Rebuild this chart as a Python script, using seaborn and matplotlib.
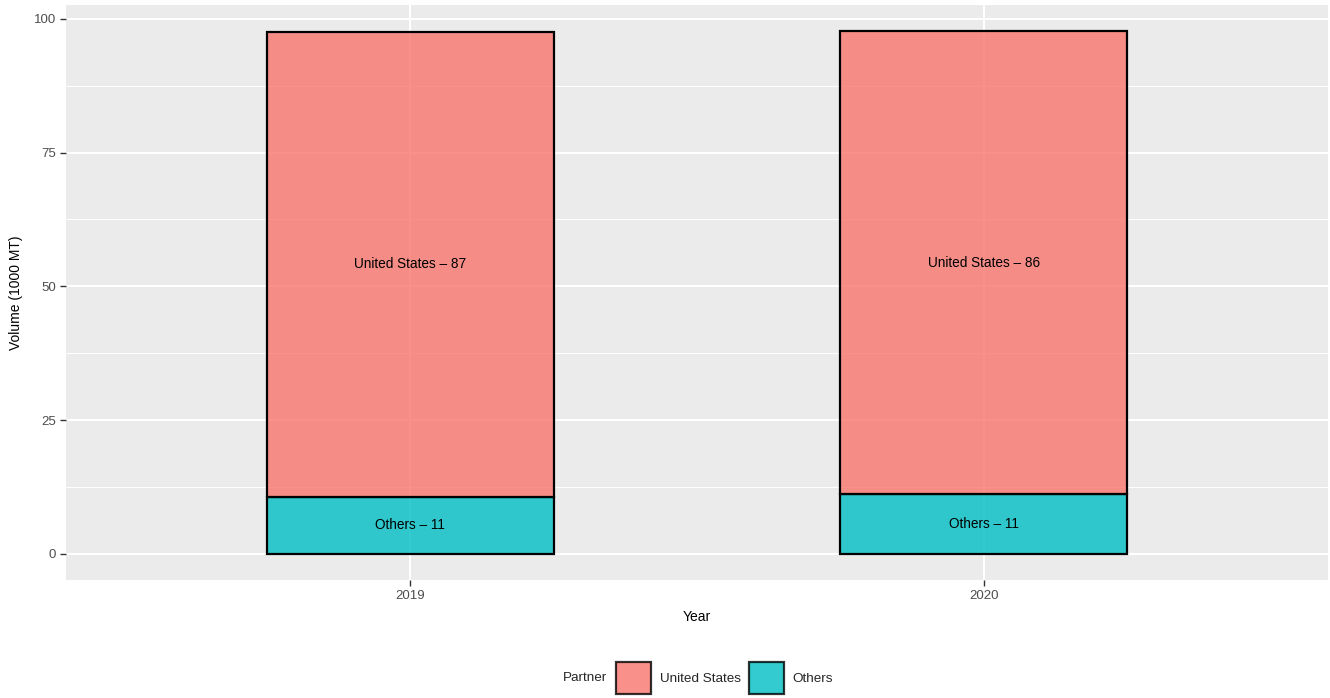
import matplotlib
matplotlib.use("Agg")
import matplotlib.pyplot as plt
import matplotlib.patches as mpatches
from matplotlib.ticker import MultipleLocator
import seaborn as sns
import pandas as pd

years = [2019, 2020]
partners = ["United States", "Others"]
us_values = [86.9, 86.5]
others_values = [10.7, 11.2]
us_labels = ["United States – 87", "United States – 86"]
others_labels = ["Others – 11", "Others – 11"]
colors = {"United States": "#F8766D", "Others": "#00BFC4"}

df = pd.DataFrame({
    "Year": years + years,
    "Partner": ["United States"] * 2 + ["Others"] * 2,
    "Volume": us_values + others_values,
})

sns.set_theme(style="darkgrid")
plt.rcParams["font.family"] = ["Liberation Sans", "DejaVu Sans"]

fig = plt.figure(figsize=(13.3, 6.98), dpi=100)
ax = fig.add_axes([66 / 1330, 1 - 580 / 698, (1328 - 66) / 1330, (580 - 5) / 698])
ax.set_facecolor("#EBEBEB")

sns.histplot(data=df, x="Year", weights="Volume", hue="Partner",
             hue_order=partners, palette=colors, multiple="stack",
             discrete=True, shrink=0.5, alpha=0.8, edgecolor="black",
             linewidth=1.6, legend=False, ax=ax, zorder=3)

for i, y in enumerate(years):
    ax.text(y, others_values[i] / 2, others_labels[i], ha="center", va="center",
            fontsize=9.8, color="black", zorder=5)
    ax.text(y, others_values[i] + us_values[i] / 2, us_labels[i], ha="center",
            va="center", fontsize=9.8, color="black", zorder=5)

top = max(u + o for u, o in zip(us_values, others_values))
ax.set_ylim(-0.05 * top, top * 1.05)
ax.set_xlim(2018.4, 2020.6)
ax.set_xticks(years)
ax.set_xticklabels([str(y) for y in years])
ax.yaxis.set_major_locator(MultipleLocator(25))
ax.yaxis.set_minor_locator(MultipleLocator(12.5))
ax.grid(which="major", color="white", linewidth=1.5, zorder=0)
ax.grid(which="minor", axis="y", color="white", linewidth=0.7, zorder=0)
ax.set_axisbelow(True)
for s in ax.spines.values():
    s.set_visible(False)
ax.tick_params(axis="both", which="major", length=4, width=1, color="#333333",
               labelsize=9.5, labelcolor="#4D4D4D", pad=3, left=True, bottom=True)
ax.tick_params(axis="both", which="minor", length=0)
ax.set_xlabel("Year", fontsize=10, color="black", labelpad=6)
ax.set_ylabel("Volume (1000 MT)", fontsize=10, color="black", labelpad=8)

handles = [mpatches.Patch(facecolor=colors[p], alpha=0.8, edgecolor="black",
                          linewidth=1.6, label=p) for p in partners]
fig.text(607 / 1330, 1 - 678 / 698, "Partner", ha="right", va="center", fontsize=9.7)
leg = fig.legend(handles=handles, loc="center left",
                 bbox_to_anchor=(616 / 1330, 1 - 678 / 698), ncol=2, frameon=False,
                 fontsize=9.7, handlelength=2.6, handleheight=3.3, handletextpad=0.65,
                 columnspacing=0.6, borderaxespad=0, borderpad=0)
for h in leg.legend_handles:
    h.set_edgecolor("black")
    h.set_linewidth(1.6)

fig.savefig("out.png", dpi=100, facecolor="white")
